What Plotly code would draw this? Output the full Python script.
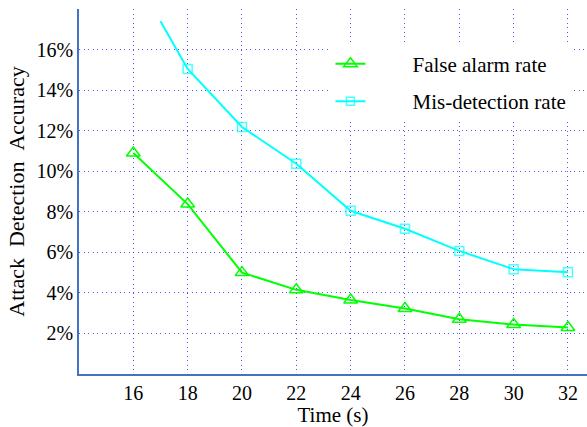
import plotly.graph_objects as go

time_false = [16, 18, 20, 22, 24, 26, 28, 30, 32]
false_alarm = [10.9, 8.38, 5.0, 4.15, 3.65, 3.23, 2.7, 2.44, 2.29]

time_mis = [17, 18, 20, 22, 24, 26, 28, 30, 32]
mis_detection = [17.4, 15.04, 12.18, 10.37, 8.05, 7.16, 6.07, 5.17, 5.02]
mis_marker_sizes = [0, 9, 9, 9, 9, 9, 9, 9, 9]

x_ticks = [16, 18, 20, 22, 24, 26, 28, 30, 32]
y_ticks = [2, 4, 6, 8, 10, 12, 14, 16]
y_tick_labels = ["2%", "4%", "6%", "8%", "10%", "12%", "14%", "16%"]

FONT = "Liberation Serif, Times New Roman, serif"
NB = "\u00a0"

fig = go.Figure()
fig.add_trace(go.Scatter(
    x=time_false, y=false_alarm, mode="lines+markers",
    name=NB * 8 + "False alarm rate", legendgroup="a",
    line=dict(color="#00ff00", width=2),
    marker=dict(symbol="triangle-up-open", size=12, color="#00ff00", line=dict(width=1.5)),
))
fig.add_trace(go.Scatter(
    x=time_mis, y=mis_detection, mode="lines+markers",
    name=NB * 8 + "Mis-detection rate", legendgroup="b",
    line=dict(color="#00ffff", width=2),
    marker=dict(symbol="square-open", size=mis_marker_sizes, color="#00ffff", line=dict(width=1.5)),
))

grid_color = "rgba(40,40,255,0.8)"
fig.update_layout(
    width=587, height=427,
    margin=dict(l=79, r=0, t=9, b=53),
    paper_bgcolor="white", plot_bgcolor="white",
    font=dict(family=FONT, size=20, color="black"),
    showlegend=True,
    legend=dict(
        x=0.495, y=0.905, xanchor="left", yanchor="top",
        bgcolor="white", borderwidth=0,
        font=dict(family=FONT, size=21, color="black"),
        traceorder="grouped", tracegroupgap=7,
    ),
    xaxis=dict(
        range=[14, 32.7], tickvals=x_ticks, ticktext=[str(v) for v in x_ticks],
        showgrid=True, gridcolor=grid_color, griddash="1px,3.5px", gridwidth=1,
        showline=True, linecolor="#4472c4", linewidth=1.5,
        ticks="", zeroline=False, tickfont=dict(size=20),
        title=dict(text="Time (s)", font=dict(family=FONT, size=21), standoff=6),
    ),
    yaxis=dict(
        range=[0, 18], tickvals=y_ticks, ticktext=y_tick_labels,
        showgrid=True, gridcolor=grid_color, griddash="1px,3.5px", gridwidth=1,
        showline=True, linecolor="#4472c4", linewidth=1.5,
        ticks="", zeroline=False, tickfont=dict(size=20),
        title=dict(text="Attack" + NB * 2 + "Detection" + NB * 2 + "Accuracy", font=dict(family=FONT, size=22), standoff=6),
    ),
)

fig.write_html("out.html")
